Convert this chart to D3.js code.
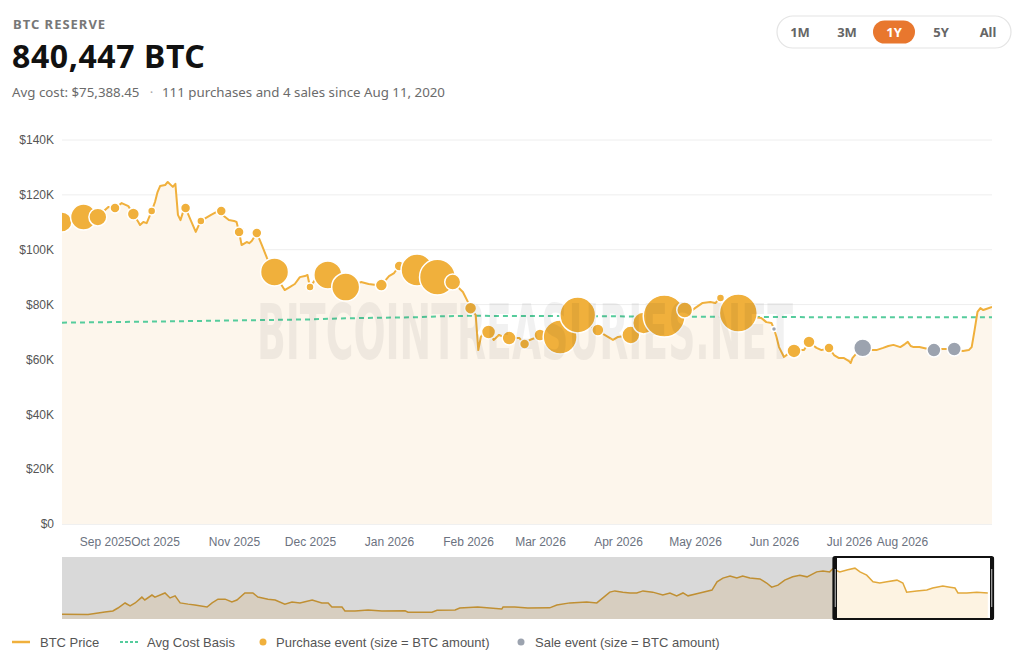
<!DOCTYPE html>
<html><head><meta charset="utf-8">
<script src="https://cdn.jsdelivr.net/npm/d3@7"></script>
<style>
html,body{margin:0;padding:0;background:#fff;}
svg{display:block;}
</style></head><body>
<svg id="chart" width="1024" height="666"></svg>
<script>
// ---------------- DATA ----------------
const priceDates = ["2025-08-20","2025-08-22","2025-08-26","2025-08-30","2025-09-01","2025-09-03","2025-09-07","2025-09-11","2025-09-15","2025-09-18","2025-09-21","2025-09-22","2025-09-24","2025-09-26","2025-09-29","2025-10-01","2025-10-02","2025-10-03","2025-10-05","2025-10-06","2025-10-08","2025-10-09","2025-10-10","2025-10-11","2025-10-12","2025-10-13","2025-10-15","2025-10-17","2025-10-18","2025-10-19","2025-10-21","2025-10-23","2025-10-25","2025-10-27","2025-10-28","2025-10-30","2025-11-01","2025-11-02","2025-11-03","2025-11-04","2025-11-06","2025-11-07","2025-11-08","2025-11-10","2025-11-12","2025-11-14","2025-11-16","2025-11-17","2025-11-19","2025-11-21","2025-11-23","2025-11-25","2025-11-27","2025-11-29","2025-11-30","2025-12-01","2025-12-03","2025-12-04","2025-12-08","2025-12-12","2025-12-15","2025-12-19","2025-12-21","2025-12-24","2025-12-27","2025-12-29","2026-01-01","2026-01-03","2026-01-05","2026-01-07","2026-01-12","2026-01-16","2026-01-20","2026-01-23","2026-01-26","2026-01-28","2026-01-30","2026-02-01","2026-02-02","2026-02-04","2026-02-05","2026-02-06","2026-02-07","2026-02-09","2026-02-11","2026-02-13","2026-02-15","2026-02-17","2026-02-19","2026-02-21","2026-02-23","2026-02-25","2026-02-27","2026-03-01","2026-03-04","2026-03-09","2026-03-13","2026-03-16","2026-03-20","2026-03-24","2026-03-26","2026-03-28","2026-03-30","2026-04-01","2026-04-06","2026-04-08","2026-04-11","2026-04-14","2026-04-18","2026-04-19","2026-04-20","2026-04-24","2026-04-27","2026-04-29","2026-05-01","2026-05-04","2026-05-07","2026-05-09","2026-05-11","2026-05-13","2026-05-15","2026-05-18","2026-05-22","2026-05-24","2026-05-27","2026-05-29","2026-05-31","2026-06-01","2026-06-02","2026-06-03","2026-06-05","2026-06-07","2026-06-09","2026-06-11","2026-06-13","2026-06-14","2026-06-15","2026-06-17","2026-06-18","2026-06-20","2026-06-23","2026-06-25","2026-06-27","2026-06-29","2026-07-01","2026-07-02","2026-07-03","2026-07-06","2026-07-09","2026-07-13","2026-07-17","2026-07-21","2026-07-24","2026-07-27","2026-07-31","2026-08-02","2026-08-03","2026-08-04","2026-08-05","2026-08-07","2026-08-10","2026-08-12","2026-08-15","2026-08-19","2026-08-20","2026-08-22","2026-08-24","2026-08-25","2026-08-26","2026-08-27","2026-08-28","2026-08-29","2026-08-30","2026-09-01"];
const priceK = [110.1,110.8,111.9,111.9,114.5,115.6,115.2,117.0,115.9,113.0,110.1,109.0,110.1,109.7,114.1,117.4,121.0,123.2,123.6,124.7,122.9,124.0,112.7,110.8,113.7,115.2,110.8,106.5,108.6,110.5,111.6,112.7,113.7,114.1,112.3,110.8,110.5,110.1,106.5,101.7,102.8,102.4,103.2,106.1,101.7,97.0,93.3,91.9,88.2,85.3,86.4,87.5,90.0,90.4,90.8,86.4,89.0,90.8,90.8,88.6,86.4,87.5,88.2,87.5,87.1,87.1,90.4,91.5,94.1,93.3,92.6,91.5,90.0,89.0,88.2,86.4,84.6,80.9,78.7,76.2,63.4,68.2,69.6,70.0,67.1,68.9,68.2,67.8,67.8,67.8,65.6,67.1,67.8,68.9,67.8,68.2,72.5,76.2,72.5,70.7,69.3,68.2,67.1,68.2,68.9,70.7,73.3,74.4,75.5,75.8,76.2,77.3,78.0,77.3,78.7,80.6,80.9,80.6,82.4,80.6,78.7,76.9,75.8,75.5,75.1,73.6,73.3,71.1,68.2,64.5,60.9,62.3,63.1,63.4,63.4,64.9,66.4,64.9,64.2,63.4,64.2,61.6,60.5,60.5,59.4,58.7,60.5,62.7,64.2,63.4,63.4,64.2,64.9,65.3,64.5,65.6,66.4,64.9,64.5,64.5,63.8,63.4,63.8,63.8,63.4,63.1,63.4,64.5,70.7,77.3,78.7,78.0,78.4,79.1];

const avgCostDates = ["2025-08-20","2025-09-30","2025-11-01","2025-12-01","2025-12-15","2026-01-12","2026-01-20","2026-02-01","2026-03-09","2026-03-16","2026-04-19","2026-05-18","2026-06-23","2026-09-01"];
const avgCostK = [73.4,73.8,74.2,74.6,75.0,75.4,75.7,75.9,75.8,75.8,75.6,75.5,75.39,75.39];

const eventDates = ["2025-08-20","2025-08-26","2025-08-30","2025-09-07","2025-09-18","2025-09-29","2025-10-13","2025-10-19","2025-10-27","2025-11-03","2025-11-10","2025-11-17","2025-12-01","2025-12-08","2025-12-15","2025-12-29","2026-01-05","2026-01-12","2026-01-20","2026-01-26","2026-02-02","2026-02-09","2026-02-17","2026-02-23","2026-03-01","2026-03-09","2026-03-16","2026-03-24","2026-04-06","2026-04-11","2026-04-19","2026-04-27","2026-05-11","2026-05-18","2026-06-01","2026-06-09","2026-06-15","2026-06-23","2026-07-09","2026-08-12","2026-08-19"];
const eventPriceK = [110.1,111.9,111.9,115.2,113.0,114.1,115.2,110.5,114.1,106.5,106.1,91.9,86.4,90.8,86.4,87.1,94.1,92.6,90.0,88.2,78.7,70.0,67.8,65.6,68.9,68.2,76.2,70.7,68.9,73.3,75.8,78.0,82.4,76.9,71.1,63.1,66.4,64.2,64.2,63.4,63.8];
const eventBtc = [12500,21000,10000,3100,4500,2000,3100,2000,3100,3100,3100,24500,2000,24500,24500,4500,3100,32000,40000,8000,4500,6100,6100,3100,4500,36000,40000,4500,10000,15000,55000,8000,2000,45000,780,6100,4500,3100,10000,6100,6100];
const eventKind = ["buy","buy","buy","buy","buy","buy","buy","buy","buy","buy","buy","buy","buy","buy","buy","buy","buy","buy","buy","buy","buy","buy","buy","buy","buy","buy","buy","buy","buy","buy","buy","buy","buy","buy","sell","buy","buy","buy","sell","sell","sell"];

const navDates = ["2020-08-11","2020-10-12","2020-11-05","2020-11-21","2020-12-10","2020-12-22","2021-01-08","2021-01-20","2021-02-01","2021-02-17","2021-02-24","2021-03-13","2021-03-20","2021-04-13","2021-04-25","2021-05-07","2021-05-19","2021-06-07","2021-06-23","2021-07-22","2021-08-03","2021-08-17","2021-09-03","2021-09-19","2021-10-01","2021-10-20","2021-11-08","2021-11-20","2021-12-14","2021-12-31","2022-01-23","2022-02-09","2022-02-28","2022-03-29","2022-04-21","2022-05-06","2022-05-15","2022-06-08","2022-06-15","2022-07-09","2022-08-09","2022-09-11","2022-11-05","2022-11-12","2023-01-08","2023-01-20","2023-03-04","2023-03-15","2023-04-27","2023-06-23","2023-06-26","2023-07-24","2023-08-24","2023-10-15","2023-11-01","2023-12-02","2024-01-11","2024-02-04","2024-03-06","2024-03-18","2024-04-06","2024-04-23","2024-05-09","2024-05-24","2024-06-16","2024-07-10","2024-07-27","2024-08-12","2024-08-27","2024-09-08","2024-10-06","2024-11-04","2024-11-16","2024-11-30","2024-12-17","2025-01-02","2025-01-16","2025-02-02","2025-02-26","2025-03-14","2025-03-26","2025-04-10","2025-04-26","2025-05-15","2025-06-01","2025-06-18","2025-07-11","2025-07-26","2025-08-11","2025-08-18","2025-09-04","2025-09-23","2025-10-10","2025-10-22","2025-11-07","2025-11-22","2025-12-08","2025-12-25","2026-01-18","2026-02-01","2026-02-10","2026-03-06","2026-03-30","2026-04-13","2026-05-07","2026-05-24","2026-06-05","2026-06-12","2026-07-03","2026-07-27","2026-08-22"];
const navPriceK = [11.5,11,14.5,17,19.4,26.6,38.7,31.5,38.7,53,46,58,53,63,51,56,39,36,34,29,39,48,48,41,46,63,63,53,48,46,36,41,39,46,39,39,29,29,19.4,19.4,21.8,19.4,20,16.5,16.5,21,22,26.6,29,24,29,29,26.6,27,34,39,41,39,65,68,65,63,63,68,65,58,63,56,63,56,63,70,90,99,104,99,104,99,97,87,77,82,94,102,106,102,114,116,114,121,114,119,123,114,106,90,87,90,94,87,65,68,70,75,80,77,75,63,63,65,63];

const yTicksK = [0,20,40,60,80,100,120,140];
const xTickDates = ["2025-09-01","2025-10-01","2025-11-01","2025-12-01","2026-01-01","2026-02-01","2026-03-01","2026-04-01","2026-05-01","2026-06-01","2026-07-01","2026-08-01"];
const rangeStart = "2025-08-20", rangeEnd = "2026-09-01";
const navStart = "2020-08-11";
const rangeButtons = ["1M","3M","1Y","5Y","All"];
const activeButton = "1Y";
const legendLabels = ["BTC Price","Avg Cost Basis","Purchase event (size = BTC amount)","Sale event (size = BTC amount)"];

// ---------------- LAYOUT ----------------
const P = d3.timeParse("%Y-%m-%d");
const ORANGE = "#f0b03c", TEAL = "#55cc9c", GREY = "#9ca3af";
const FONT = "'Liberation Sans', Arial, sans-serif";
const HFONT = "'Noto Sans', sans-serif";
const plot = {left: 62, right: 992, top: 140, bottom: 524};
const nav = {left: 62, right: 992, top: 557, bottom: 619};
// piecewise time axis: tick label slots as laid out in the reference
const xBreakPx = [62,105,155,234,310,389,468,540,618,695,774,849,902,992];

const svg = d3.select("#chart");

const x = d3.scaleTime()
  .domain([rangeStart, ...xTickDates, rangeEnd].map(P))
  .range(xBreakPx);
const y = d3.scaleLinear().domain([0, 140]).range([plot.bottom, plot.top]);
const r = d3.scaleSqrt().domain([0, 60000]).range([0, 21.9]);

const series = priceDates.map((d, i) => ({date: P(d), v: priceK[i]}));
const avgSeries = avgCostDates.map((d, i) => ({date: P(d), v: avgCostK[i]}));
const events = eventDates.map((d, i) => ({date: P(d), v: eventPriceK[i], btc: eventBtc[i], kind: eventKind[i]}));

// ---- header ----
svg.append("text").attr("x", 13).attr("y", 29).text("BTC RESERVE")
  .attr("font-family", HFONT).attr("font-size", 13).attr("font-weight", 700)
  .attr("letter-spacing", 1.0).attr("fill", "#777");
svg.append("text").attr("x", 12).attr("y", 68).text("840,447 BTC")
  .attr("font-family", HFONT).attr("font-size", 32).attr("font-weight", 700)
  .attr("fill", "#111").attr("letter-spacing", 0.6);
const sub = svg.append("g").attr("font-family", HFONT).attr("font-size", 13.3).attr("fill", "#6b6b6b");
sub.append("text").attr("x", 12).attr("y", 97).text("Avg cost: $75,388.45");
sub.append("text").attr("x", 151.5).attr("y", 97).attr("text-anchor", "middle").text("·").attr("fill", "#aaa");
sub.append("text").attr("x", 162).attr("y", 97).text("111 purchases and 4 sales since Aug 11, 2020");

// ---- range buttons ----
const bx = d3.scalePoint().domain(rangeButtons).range([800, 988]);
svg.append("rect").attr("x", 777).attr("y", 16).attr("width", 234).attr("height", 32).attr("rx", 16)
  .attr("fill", "#fff").attr("stroke", "#e4e4e4").attr("stroke-width", 1.2);
svg.append("rect").attr("x", bx(activeButton) - 21).attr("y", 20.5).attr("width", 42).attr("height", 23).attr("rx", 11.5)
  .attr("fill", "#e8772e");
svg.append("g").selectAll("text").data(rangeButtons).join("text")
  .attr("x", d => bx(d)).attr("y", 37).attr("text-anchor", "middle")
  .attr("font-family", HFONT).attr("font-size", 13).attr("font-weight", 700)
  .attr("fill", d => d === activeButton ? "#fff" : "#666").text(d => d);

// ---- clip ----
svg.append("defs").append("clipPath").attr("id", "plotClip").append("rect")
  .attr("x", plot.left).attr("y", plot.top - 30).attr("width", plot.right - plot.left).attr("height", plot.bottom - plot.top + 30);

// ---- grid + y axis ----
const grid = svg.append("g");
grid.selectAll("line").data(yTicksK).join("line")
  .attr("x1", plot.left).attr("x2", plot.right)
  .attr("y1", d => y(d)).attr("y2", d => y(d))
  .attr("stroke", d => d === 0 ? "#e2e2e2" : "#eeeeee").attr("stroke-width", 1);
const yAxis = svg.append("g").attr("transform", `translate(${plot.left - 8},0)`)
  .call(d3.axisLeft(y).tickValues(yTicksK).tickSize(0).tickPadding(0).tickFormat(d => "$" + d + (d === 0 ? "" : "K")));
yAxis.select(".domain").remove();
yAxis.selectAll("text").attr("font-family", FONT).attr("font-size", 12).attr("fill", "#555");

// ---- area ----
const gPlot = svg.append("g").attr("clip-path", "url(#plotClip)");
gPlot.append("path").datum(series)
  .attr("d", d3.area().x(d => x(d.date)).y0(y(0)).y1(d => y(d.v)))
  .attr("fill", "#fdf6ec");

// ---- watermark ----
svg.append("text").attr("x", 525).attr("y", 359).attr("text-anchor", "middle")
  .attr("font-family", "'DejaVu Sans Condensed', 'DejaVu Sans', sans-serif").attr("font-weight", 700)
  .attr("font-size", 76).attr("textLength", 536).attr("lengthAdjust", "spacingAndGlyphs")
  .attr("fill", "#000").attr("opacity", 0.05).text("BITCOINTREASURIES.NET");

// ---- x axis ----
const xAxis = svg.append("g").attr("transform", `translate(0,${plot.bottom + 8})`)
  .call(d3.axisBottom(x).tickValues(xTickDates.map(P)).tickSize(0).tickPadding(5).tickFormat(d3.timeFormat("%b %Y")));
xAxis.select(".domain").remove();
xAxis.selectAll("text").attr("font-family", FONT).attr("font-size", 12).attr("fill", "#6b7280");

// ---- avg cost ----
gPlot.append("path").datum(avgSeries)
  .attr("d", d3.line().x(d => x(d.date)).y(d => y(d.v)))
  .attr("fill", "none").attr("stroke", TEAL).attr("stroke-width", 2).attr("stroke-dasharray", "5,4");

// ---- price line ----
gPlot.append("path").datum(series)
  .attr("d", d3.line().x(d => x(d.date)).y(d => y(d.v)))
  .attr("fill", "none").attr("stroke", ORANGE).attr("stroke-width", 2).attr("stroke-linejoin", "round");

// ---- events ----
gPlot.append("g").selectAll("circle").data(events).join("circle")
  .attr("cx", d => x(d.date)).attr("cy", d => y(d.v)).attr("r", d => r(d.btc))
  .attr("fill", d => d.kind === "buy" ? ORANGE : GREY)
  .attr("stroke", "#fff").attr("stroke-width", 1.5);

// ---- navigator ----
const xn = d3.scaleTime().domain([P(navStart), P(rangeEnd)]).range([nav.left, nav.right]);
const yn = d3.scaleLinear().domain([0, 150]).range([nav.bottom, nav.top]);
const navSeries = navDates.map((d, i) => ({date: P(d), v: navPriceK[i]}));
const gNav = svg.append("g");
gNav.append("rect").attr("x", nav.left).attr("y", nav.top).attr("width", nav.right - nav.left).attr("height", nav.bottom - nav.top).attr("fill", "#fff");
gNav.append("path").datum(navSeries)
  .attr("d", d3.area().x(d => xn(d.date)).y0(nav.bottom).y1(d => yn(d.v)))
  .attr("fill", "rgba(240,176,60,0.15)");
gNav.append("path").datum(navSeries)
  .attr("d", d3.line().x(d => xn(d.date)).y(d => yn(d.v)))
  .attr("fill", "none").attr("stroke", "#e2a93c").attr("stroke-width", 1.5);
const wx0 = xn(P(rangeStart)), wx1 = xn(P(rangeEnd));
gNav.append("rect").attr("x", nav.left).attr("y", nav.top).attr("width", wx0 - nav.left).attr("height", nav.bottom - nav.top)
  .attr("fill", "rgba(0,0,0,0.15)");
gNav.append("rect").attr("x", wx0).attr("y", nav.top).attr("width", wx1 - wx0 + 1).attr("height", nav.bottom - nav.top)
  .attr("fill", "none").attr("stroke", "#111").attr("stroke-width", 2.2).attr("rx", 1.5);
[wx0, wx1 - 2].forEach(hx => {
  gNav.append("rect").attr("x", hx).attr("y", nav.top).attr("width", 3.5).attr("height", nav.bottom - nav.top).attr("fill", "#111");
  gNav.append("line").attr("x1", hx + 1.75).attr("x2", hx + 1.75).attr("y1", nav.top + 12).attr("y2", nav.bottom - 12)
    .attr("stroke", "#c8c8c8").attr("stroke-width", 1);
});

// ---- legend ----
const lg = svg.append("g").attr("font-family", FONT).attr("font-size", 13).attr("fill", "#555");
const ly = 642;
lg.append("line").attr("x1", 12).attr("x2", 30).attr("y1", ly).attr("y2", ly).attr("stroke", ORANGE).attr("stroke-width", 2.5);
lg.append("text").attr("x", 40).attr("y", ly + 4.5).text(legendLabels[0]);
lg.append("line").attr("x1", 120).attr("x2", 138).attr("y1", ly).attr("y2", ly).attr("stroke", TEAL).attr("stroke-width", 2).attr("stroke-dasharray", "3,2");
lg.append("text").attr("x", 147).attr("y", ly + 4.5).text(legendLabels[1]);
lg.append("circle").attr("cx", 263).attr("cy", ly).attr("r", 3.5).attr("fill", ORANGE);
lg.append("text").attr("x", 276).attr("y", ly + 4.5).text(legendLabels[2]);
lg.append("circle").attr("cx", 521).attr("cy", ly).attr("r", 3.5).attr("fill", GREY);
lg.append("text").attr("x", 535).attr("y", ly + 4.5).text(legendLabels[3]);
</script>
</body></html>
